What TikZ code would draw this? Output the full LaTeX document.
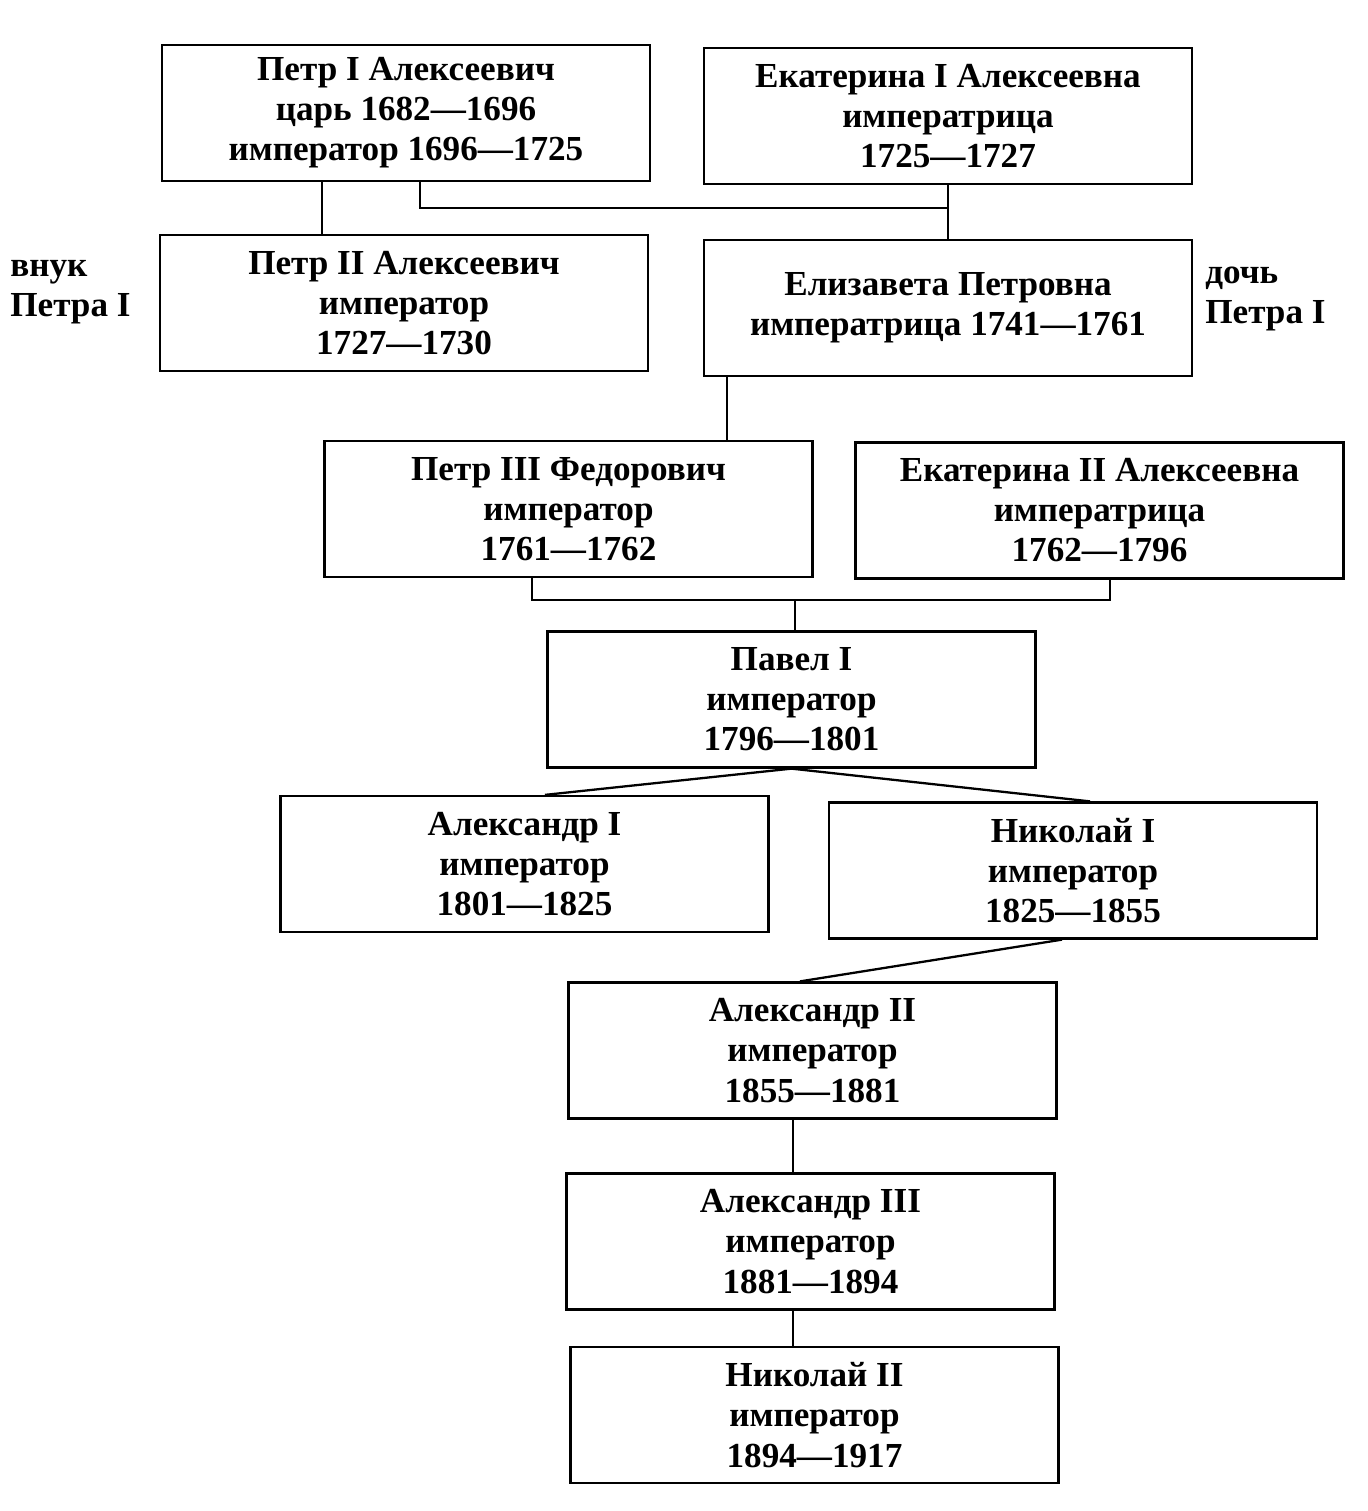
\documentclass[tikz,border=0pt]{standalone}
\usepackage{fontspec}
\setmainfont{Liberation Serif}
\usetikzlibrary{calc}

\tikzset{
  ruler/.style={draw, line width=1.3pt, minimum width=9.76cm, minimum height=2.72cm,
    inner sep=0pt, align=center, font=\bfseries\fontsize{20}{22.8}\selectfont},
  note/.style={anchor=west, align=left, inner sep=0pt, font=\bfseries\fontsize{20}{22.8}\selectfont},
  link/.style={line width=1.3pt}
}

\begin{document}
\begin{tikzpicture}[x=0.02cm,y=-0.02cm]
  \useasboundingbox (0,0) rectangle (1367,1511);

  % rulers
  \node[ruler] (petr1) at (406,113) {Петр I Алексеевич\\царь 1682—1696\\император 1696—1725};
  \node[ruler] (ekat1) at (948,116) {Екатерина I Алексеевна\\императрица\\1725—1727};
  \node[ruler] (petr2) at (404,303) {Петр II Алексеевич\\император\\1727—1730};
  \node[ruler] (eliz) at (948,308) {Елизавета Петровна\\императрица 1741—1761};
  \node[ruler] (petr3) at (568.5,509) {Петр III Федорович\\император\\1761—1762};
  \node[ruler] (ekat2) at (1099.5,510.5) {Екатерина II Алексеевна\\императрица\\1762—1796};
  \node[ruler] (pavel) at (791.5,699.5) {Павел I\\император\\1796—1801};
  \node[ruler] (alex1) at (524.5,864) {Александр I\\император\\1801—1825};
  \node[ruler] (nik1) at (1073,870.5) {Николай I\\император\\1825—1855};
  \node[ruler] (alex2) at (812.5,1050.5) {Александр II\\император\\1855—1881};
  \node[ruler] (alex3) at (810.5,1241.5) {Александр III\\император\\1881—1894};
  \node[ruler] (nik2) at (814.5,1415) {Николай II\\император\\1894—1917};

  % side notes
  \node[note] (vnuk) at (10,292) {внук\\Петра I};
  \node[note] (doch) at (1205,299) {дочь\\Петра I};

  % links
  \draw[link] ($(petr1.south)+(-84,0)$) -- ($(petr2.north)+(-82,0)$);
  \coordinate (j1) at (948,208);
  \draw[link] ($(petr1.south)+(14,0)$) |- (j1);
  \draw[link] (ekat1.south) -- (eliz.north);

  \coordinate (j2) at ($(eliz.south)+(-221,0)$);
  \draw[link] (j2) -- (j2 |- petr3.north);

  \coordinate (j3) at (795,600);
  \draw[link] ($(petr3.south)+(-36.5,0)$) |- (j3) -| ($(ekat2.south)+(10.5,0)$);
  \draw[link] (j3) -- (j3 |- pavel.north);

  \draw[link] ($(alex1.north)+(20.5,0)$) -- (pavel.south) -- ($(nik1.north)+(17,0)$);
  \draw[link] ($(nik1.south)+(-11,0)$) -- ($(alex2.north)+(-12.5,0)$);

  \coordinate (j4) at ($(alex2.south)+(-19.5,0)$);
  \draw[link] (j4) -- (j4 |- alex3.north);
  \coordinate (j5) at ($(alex3.south)+(-17.5,0)$);
  \draw[link] (j5) -- (j5 |- nik2.north);

\end{tikzpicture}
\end{document}
